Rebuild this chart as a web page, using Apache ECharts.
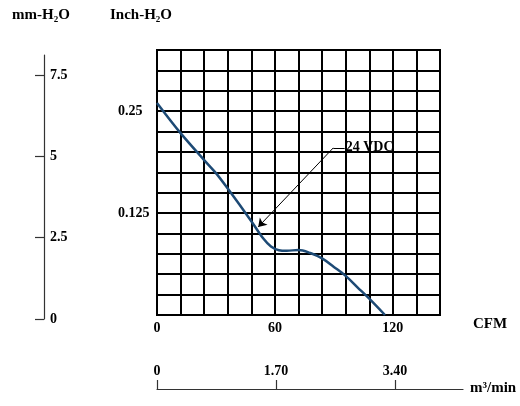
<!DOCTYPE html>
<html>
<head>
<meta charset="utf-8">
<script src="https://cdn.jsdelivr.net/npm/echarts@6/dist/echarts.min.js"></script>
<style>
html,body{margin:0;padding:0;background:#fff;}
#chart{width:520px;height:406px;}
</style>
</head>
<body>
<div id="chart"></div>
<script>
// ---- data ----
const cfmValues = [0, 12, 24, 30, 36, 48, 54, 58, 62, 66, 72, 78, 84, 90, 96, 102, 108, 116];
const inchValues = [0.26, 0.223, 0.19, 0.174, 0.155, 0.115, 0.094, 0.084, 0.0795, 0.0788, 0.0797, 0.076, 0.0695, 0.059, 0.048, 0.034, 0.02, 0];
const cfmTickLabels = [0, 60, 120];
const inchTickLabels = [0.125, 0.25];
const mmTickLabels = [0, 2.5, 5, 7.5];
const m3TickLabels = [0, 1.70, 3.40];
const annotationText = '24 VDC';
const annotationElbow = [89.7, 0.205];
const annotationTip = [51.5, 0.108];
const annotationLabelEnd = [95.5, 0.205];

const FONT = 'Liberation Serif';
const near = (a, b) => Math.abs(a - b) < 1e-6;

const chart = echarts.init(document.getElementById('chart'), null, {renderer: 'canvas'});
const txt = {fontFamily: FONT, fontWeight: 'bold', fontSize: 14, color: '#000'};

chart.setOption({
  animation: false,
  backgroundColor: '#fff',
  grid: [
    {left: 157, right: 80, top: 50, bottom: 91, show: true, borderColor: '#000', borderWidth: 2},
    {left: 44, width: 1, top: 55, bottom: 87},
    {left: 157, right: 57, top: 388, height: 1}
  ],
  xAxis: [
    {
      gridIndex: 0, type: 'value', min: 0, max: 144, interval: 12,
      axisLine: {show: true, lineStyle: {color: '#000', width: 2}},
      axisTick: {show: false},
      splitLine: {show: true, lineStyle: {color: '#000', width: 2}},
      axisLabel: Object.assign({}, txt, {
        margin: 6,
        formatter: v => cfmTickLabels.some(t => near(t, v)) ? String(v) : ''
      })
    },
    {gridIndex: 1, type: 'value', show: false, min: 0, max: 1},
    {
      gridIndex: 2, type: 'value', min: 0, max: 4.37, interval: 1.70,
      axisLine: {show: true, lineStyle: {color: '#333', width: 1.2}},
      axisTick: {show: true, inside: true, length: 9, lineStyle: {color: '#333', width: 1.2}},
      splitLine: {show: false},
      axisLabel: Object.assign({}, txt, {
        inside: true, margin: 11, showMaxLabel: false,
        formatter: v => {
          const t = m3TickLabels.find(t => near(t, v));
          return t === undefined ? '' : (t === 0 ? '0' : t.toFixed(2));
        }
      })
    }
  ],
  yAxis: [
    {
      gridIndex: 0, type: 'value', min: 0, max: 0.325, interval: 0.025,
      axisLine: {show: true, lineStyle: {color: '#000', width: 2}},
      axisTick: {show: false},
      splitLine: {show: true, lineStyle: {color: '#000', width: 2}},
      axisLabel: Object.assign({}, txt, {
        align: 'left', margin: 39,
        formatter: v => {
          const t = inchTickLabels.find(t => near(t, v));
          return t === undefined ? '' : String(t);
        }
      })
    },
    {
      gridIndex: 1, type: 'value', min: 0, max: 8.12, interval: 2.5,
      axisLine: {show: true, lineStyle: {color: '#333', width: 1.2}},
      axisTick: {show: true, inside: false, length: 9, lineStyle: {color: '#333', width: 1.2}},
      splitLine: {show: false},
      axisLabel: Object.assign({}, txt, {
        inside: true, margin: 6, showMaxLabel: false,
        formatter: v => {
          const t = mmTickLabels.find(t => near(t, v));
          return t === undefined ? '' : String(t);
        }
      })
    },
    {gridIndex: 2, type: 'value', show: false, min: 0, max: 1}
  ],
  graphic: [
    {type: 'text', left: 12, top: 8, style: {text: 'mm-H₂O', font: 'bold 15px "Liberation Serif"', fill: '#000'}},
    {type: 'text', left: 110, top: 8, style: {text: 'Inch-H₂O', font: 'bold 15px "Liberation Serif"', fill: '#000'}},
    {type: 'text', left: 473, top: 317, style: {text: 'CFM', font: 'bold 15px "Liberation Serif"', fill: '#000'}},
    {type: 'text', left: 470, top: 381, style: {text: 'm³/min', font: 'bold 15px "Liberation Serif"', fill: '#000'}}
  ],
  series: [{
    type: 'line',
    xAxisIndex: 0, yAxisIndex: 0,
    data: cfmValues.map((c, i) => [c, inchValues[i]]),
    smooth: 0.35,
    showSymbol: false,
    lineStyle: {color: '#1d4a75', width: 2.5},
    markLine: {
      silent: true,
      symbol: ['none', 'arrow'],
      symbolSize: 8,
      lineStyle: {color: '#000', width: 1, type: 'solid'},
      label: {show: false},
      data: [
        [{coord: annotationElbow}, {coord: annotationTip}],
        [
          {coord: annotationElbow, symbol: 'none'},
          {coord: annotationLabelEnd, symbol: 'none',
           label: Object.assign({}, txt, {show: true, position: 'end', distance: 1, formatter: annotationText})}
        ]
      ]
    }
  }]
});
</script>
</body>
</html>
